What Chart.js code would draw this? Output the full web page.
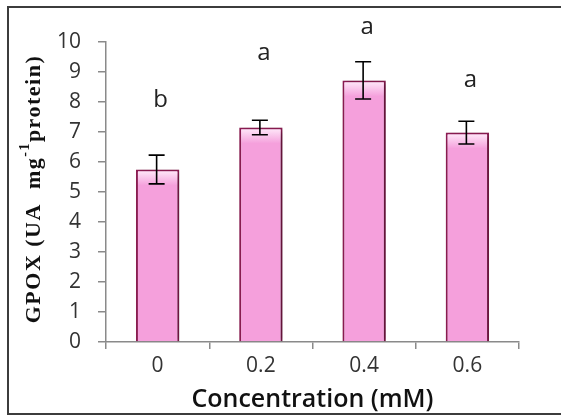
<!DOCTYPE html>
<html><head><meta charset="utf-8">
<script src="https://cdn.jsdelivr.net/npm/chart.js@4"></script>
<style>html,body{margin:0;padding:0;background:#fff;}#wrap{width:561px;height:416px;position:relative;}</style>
</head><body><div id="wrap"><canvas id="c" width="561" height="416"></canvas></div>
<script>
const categories = ["0", "0.2", "0.4", "0.6"];
const values = [5.75, 7.15, 8.72, 6.98];
const errors = [0.48, 0.24, 0.62, 0.38];
const letters = ["b", "a", "a", "a"];
const letterLevels = [8.06, 9.62, 10.49, 8.72];
const yTicks = [0, 1, 2, 3, 4, 5, 6, 7, 8, 9, 10];

const barFx = {
  id: 'barFx',
  beforeDraw(chart) {
    const ctx = chart.ctx;
    ctx.save();
    ctx.fillStyle = '#fff';
    ctx.fillRect(0, 0, chart.width, chart.height);
    ctx.strokeStyle = '#3c3c3c';
    ctx.lineWidth = 2;
    ctx.strokeRect(8, 7, chart.width + 10, chart.height - 9);
    ctx.restore();
  },
  beforeDatasetsDraw(chart) {
    const ctx = chart.ctx;
    ctx.save();
    ctx.shadowColor = 'rgba(0,0,0,0.35)';
    ctx.shadowBlur = 5;
    ctx.shadowOffsetX = 3;
    ctx.shadowOffsetY = 1;
  },
  afterDatasetsDraw(chart) {
    const ctx = chart.ctx;
    ctx.restore();
    const meta = chart.getDatasetMeta(0);
    const y = chart.scales.y;
    ctx.save();
    meta.data.forEach((el, i) => {
      const l = el.x - el.width / 2 + 2, r = el.x + el.width / 2 - 2;
      const t = el.y + 2;
      const g = ctx.createLinearGradient(0, t, 0, t + 14);
      g.addColorStop(0, 'rgba(255,235,250,0.9)');
      g.addColorStop(1, 'rgba(255,235,250,0)');
      ctx.fillStyle = g;
      ctx.fillRect(l, t, r - l, 14);
    });
    ctx.strokeStyle = '#000';
    ctx.lineWidth = 1.6;
    meta.data.forEach((el, i) => {
      const yt = y.getPixelForValue(values[i] + errors[i]);
      const yb = y.getPixelForValue(values[i] - errors[i]);
      const x = el.x - 1;
      ctx.beginPath();
      ctx.moveTo(x, yt); ctx.lineTo(x, yb);
      ctx.moveTo(x - 8, yt); ctx.lineTo(x + 8, yt);
      ctx.moveTo(x - 8, yb); ctx.lineTo(x + 8, yb);
      ctx.stroke();
    });
    ctx.fillStyle = '#222';
    ctx.font = '24px "Open Sans"';
    ctx.textAlign = 'center';
    ctx.textBaseline = 'middle';
    meta.data.forEach((el, i) => {
      ctx.fillText(letters[i], el.x + 3, y.getPixelForValue(letterLevels[i]));
    });
    ctx.restore();
  },
  afterDraw(chart) {
    const ctx = chart.ctx;
    const a = chart.chartArea;
    ctx.save();
    ctx.translate(34, (a.top + a.bottom) / 2 - 3);
    ctx.rotate(-Math.PI / 2);
    ctx.fillStyle = '#111';
    ctx.textBaseline = 'middle';
    ctx.letterSpacing = '1.5px';
    const big = 'bold 22px "Liberation Serif"', small = 'bold 14px "Liberation Serif"';
    const p1 = 'GPOX (UA  mg', p2 = '-1', p3 = 'protein)';
    ctx.font = big; const w1 = ctx.measureText(p1).width, w3 = ctx.measureText(p3).width;
    ctx.font = small; const w2 = ctx.measureText(p2).width;
    let x = -(w1 + w2 + w3) / 2;
    ctx.font = big; ctx.fillText(p1, x, 0); x += w1;
    ctx.font = small; ctx.fillText(p2, x, -9); x += w2;
    ctx.font = big; ctx.fillText(p3, x, 0);
    ctx.restore();
  }
};

new Chart(document.getElementById('c'), {
  type: 'bar',
  data: {
    labels: categories,
    datasets: [{
      data: values,
      backgroundColor(ctx) {
        const c = ctx.chart;
        const el = c.getDatasetMeta(0).data[ctx.dataIndex];
        if (!el || !el.width) return '#f5a0dc';
        const l = el.x - el.width / 2, r = el.x + el.width / 2;
        const g = c.ctx.createLinearGradient(l, 0, r, 0);
        g.addColorStop(0, '#e472c3');
        g.addColorStop(0.18, '#f5a0dc');
        g.addColorStop(0.8, '#f7a6e0');
        g.addColorStop(1, '#e070c0');
        return g;
      },
      borderColor: '#8c1c52',
      borderWidth: 2,
      barPercentage: 0.42,
      categoryPercentage: 1
    }]
  },
  options: {
    responsive: false,
    animation: false,
    layout: { padding: { left: 0, right: 42, top: 42, bottom: 0 } },
    plugins: { legend: { display: false }, tooltip: { enabled: false } },
    scales: {
      x: {
        grid: { display: true, drawOnChartArea: false, color: '#8a8a8a', tickLength: 7, lineWidth: 1.5, offset: true },
        border: { color: '#8a8a8a', width: 1.5 },
        ticks: { color: '#333', font: { family: '"Open Sans"', size: 21 }, padding: 4 },
        title: { display: true, text: 'Concentration (mM)', color: '#111', font: { family: '"Open Sans"', size: 25, weight: '600' }, padding: { top: 0, bottom: 1 } },
        afterFit(s) { s.height = 74; }
      },
      y: {
        min: 0, max: 10,
        afterBuildTicks(s) { s.ticks = yTicks.map(v => ({ value: v })); },
        grid: { display: true, drawOnChartArea: false, color: '#8a8a8a', tickLength: 8, lineWidth: 1.5 },
        border: { color: '#8a8a8a', width: 1.5 },
        ticks: { color: '#333', font: { family: '"Open Sans"', size: 21 }, padding: 17 },
        afterFit(s) { s.width = 106; }
      }
    }
  },
  plugins: [barFx]
});
</script></body></html>
